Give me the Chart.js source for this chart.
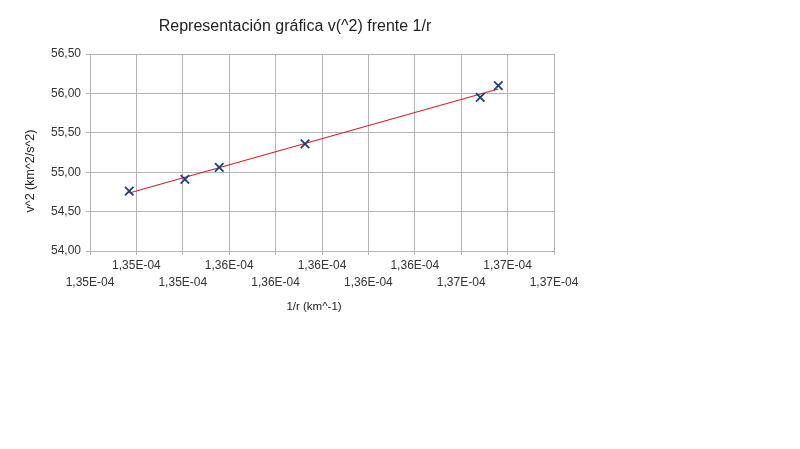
<!DOCTYPE html>
<html>
<head>
<meta charset="utf-8">
<title>Representación gráfica v(^2) frente 1/r</title>
<script src="https://cdn.jsdelivr.net/npm/chart.js@4/dist/chart.umd.min.js"></script>
<style>
    body { margin: 0; background: #ffffff; }
    canvas { display: block; }
</style>
</head>
<body>
<canvas id="chart" width="800" height="449"></canvas>
<script>
// Data
const inverseRadius = [1.35169e-4, 1.35409e-4, 1.35557e-4, 1.35927e-4, 1.36682e-4, 1.36760e-4];
const velocitySquared = [54.76, 54.91, 55.06, 55.36, 55.95, 56.10];

// Axis ticks
const xTicks = [1.350e-4, 1.352e-4, 1.354e-4, 1.356e-4, 1.358e-4, 1.360e-4,
                1.362e-4, 1.364e-4, 1.366e-4, 1.368e-4, 1.370e-4];
const yTicks = [54.0, 54.5, 55.0, 55.5, 56.0, 56.5];

const chartTitle = 'Representación gráfica v(^2) frente 1/r';
const xAxisTitle = '1/r (km^-1)';
const yAxisTitle = 'v^2 (km^2/s^2)';

const FONT = '"Liberation Sans", Arial, sans-serif';
const GRID = '#b3b3b3';

/**
 * Least squares trend line through the measured points
 */
function linearTrend(xs, ys) {
    const n = xs.length;
    const mx = xs.reduce((a, b) => a + b, 0) / n;
    const my = ys.reduce((a, b) => a + b, 0) / n;
    let sxy = 0, sxx = 0;
    xs.forEach((x, i) => {
        sxy += (x - mx) * (ys[i] - my);
        sxx += (x - mx) * (x - mx);
    });
    const slope = sxy / sxx;
    const x0 = Math.min(...xs);
    const x1 = Math.max(...xs);
    return [
        { x: x0, y: my + slope * (x0 - mx) },
        { x: x1, y: my + slope * (x1 - mx) }
    ];
}

function formatSci(value) {
    const [mant, exp] = value.toExponential(2).split('e');
    const e = parseInt(exp, 10);
    const sign = e < 0 ? '-' : '+';
    return mant.replace('.', ',') + 'E' + sign + String(Math.abs(e)).padStart(2, '0');
}

// Title and axis titles at the positions the reference uses
const textPlugin = {
    id: 'chartTexts',
    afterDraw(chart) {
        const ctx = chart.ctx;
        ctx.save();
        ctx.fillStyle = '#222222';
        ctx.textAlign = 'center';
        ctx.textBaseline = 'middle';
        ctx.font = '16px ' + FONT;
        ctx.fillText(chartTitle, 295, 27);

        ctx.font = '11.5px ' + FONT;
        ctx.fillText(xAxisTitle, 314, 307);

        ctx.font = '12.5px ' + FONT;
        ctx.translate(31, 171);
        ctx.rotate(-Math.PI / 2);
        ctx.fillText(yAxisTitle, 0, 0);
        ctx.restore();
    }
};

const points = inverseRadius.map((x, i) => ({ x: x, y: velocitySquared[i] }));

new Chart(document.getElementById('chart'), {
    type: 'scatter',
    data: {
        datasets: [
            {
                label: 'v^2',
                data: points,
                pointStyle: 'crossRot',
                pointRadius: 6,
                pointHoverRadius: 6,
                borderColor: '#1d3f78',
                backgroundColor: '#1d3f78',
                pointBorderWidth: 1.8,
                order: 0
            },
            {
                label: 'Tendencia',
                data: linearTrend(inverseRadius, velocitySquared),
                showLine: true,
                pointRadius: 0,
                borderColor: '#d2232f',
                borderWidth: 1.2,
                order: 1
            }
        ]
    },
    options: {
        responsive: false,
        animation: false,
        layout: {
            padding: { left: 0, top: 54, right: 246, bottom: 158 }
        },
        plugins: {
            legend: { display: false },
            tooltip: { enabled: false },
            title: { display: false }
        },
        scales: {
            x: {
                type: 'linear',
                min: xTicks[0],
                max: xTicks[xTicks.length - 1],
                afterBuildTicks: scale => {
                    scale.ticks = xTicks.map(v => ({ value: v }));
                },
                afterFit: scale => { scale.height = 40; },
                grid: { color: GRID, tickLength: 4, tickColor: GRID },
                border: { color: GRID },
                ticks: {
                    autoSkip: false,
                    maxRotation: 0,
                    minRotation: 0,
                    padding: 3,
                    color: '#333333',
                    font: { family: FONT, size: 12, lineHeight: 1.35 },
                    callback: (value, index) => {
                        const label = formatSci(value);
                        return index % 2 === 1 ? [label, ''] : ['', label];
                    }
                }
            },
            y: {
                min: yTicks[0],
                max: yTicks[yTicks.length - 1],
                afterBuildTicks: scale => {
                    scale.ticks = yTicks.map(v => ({ value: v }));
                },
                afterFit: scale => { scale.width = 90; },
                grid: { color: GRID, tickLength: 4, tickColor: GRID },
                border: { color: GRID },
                ticks: {
                    padding: 5,
                    color: '#333333',
                    font: { family: FONT, size: 12 },
                    callback: value => value.toFixed(2).replace('.', ',')
                }
            }
        }
    },
    plugins: [textPlugin]
});
</script>
</body>
</html>
